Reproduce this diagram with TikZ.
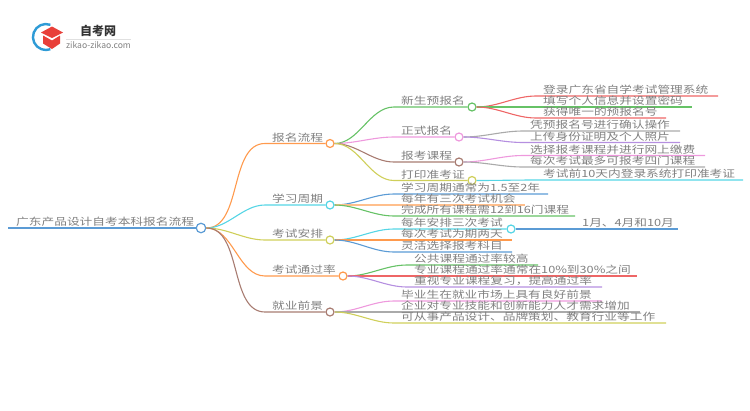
\documentclass[tikz,border=0pt]{standalone}
\usepackage{graphicx}
\usepackage{fontspec}
\setmainfont{Noto Sans CJK SC}
\newcommand{\wide}[1]{\scalebox{1.27}[1]{#1}}
\newcommand{\branch}[7]{%
  % #1 parent, #2 name, #3 colour, #4 curve end x, #5 y, #6 line end x, #7 text
  \coordinate (#2s) at (#4,#5);
  \coordinate (#2e) at (#6,#5);
  \draw[link,#3] (#1.east) to[out=0,in=180,looseness=0.9] (#2s) -- (#2e);
  \node[lbl] (#2) at (#4+7,#5) {\wide{#7}};
}
\tikzset{
  link/.style={line width=1.1pt},
  lbl/.style={anchor=base west,inner sep=0pt,text=txt,font=\fontsize{10}{11}\selectfont,yshift=2.2pt},
  hub/.style={circle,draw,line width=1.2pt,fill=white,minimum size=8pt,inner sep=0pt},
}
\definecolor{txt}{HTML}{808080}
\definecolor{cblue}{HTML}{5B9BD5}
\definecolor{corange}{HTML}{FF9A4D}
\definecolor{ccyan}{HTML}{55D5E5}
\definecolor{colive}{HTML}{CFCF5A}
\definecolor{cbrown}{HTML}{A87C72}
\definecolor{cgreen}{HTML}{66C266}
\definecolor{cpink}{HTML}{EE99DD}
\definecolor{cred}{HTML}{EE6666}
\definecolor{cgray}{HTML}{AAAAAA}
\definecolor{cpurple}{HTML}{B58FE0}
\definecolor{cpeach}{HTML}{FFBF8C}
\definecolor{logoblue}{HTML}{2E9BD6}
\definecolor{logored}{HTML}{E8403A}
\begin{document}
\begin{tikzpicture}[x=1pt,y=-1pt]
\useasboundingbox (0,0) rectangle (750,410);
% logo
\draw[logoblue,line width=2.4pt] (50.4,24.8) arc[start angle=70,end angle=290,radius=13pt];
\fill[logored] (41,32.5) -- (52,26.5) -- (63,32.5) -- (52,38) -- cycle;
\fill[logored] (43,35.5) -- (52,40.5) -- (60,35.5) -- (60,43.5) -- (52,49) -- (43,43.5) -- cycle;
\node[inner sep=0pt,text=black!80,font=\fontsize{12}{13}\selectfont\bfseries] (logot) at (98,31) {自考网};
\node[inner sep=0pt,text=black!50,font=\fontsize{8.6}{9}\selectfont] (logou) at (98.5,45) {zikao-zikao.com};
\coordinate (logol) at (66,39);
\coordinate (logor) at (131,39);
\draw[black!12,line width=0.5pt] (logol) -- (logor);
% root
\coordinate (roots) at (8,228);
\node[hub,draw=cblue,minimum size=9.5pt] (root) at (201,228) {};
\draw[link,cblue] (roots) -- (root.west);
\node[lbl] (roott) at (16,228) {\wide{广东产品设计自考本科报名流程}};
% level 1
\node[hub,draw=corange] (a) at (330,143.5) {};
\node[hub,draw=ccyan] (b) at (330,205) {};
\node[hub,draw=colive] (c) at (330,240) {};
\node[hub,draw=corange] (d) at (343,276) {};
\node[hub,draw=cbrown] (e) at (330,312) {};
\foreach \n/\col/\y/\txt in {a/corange/143.5/报名流程,b/ccyan/205/学习周期,c/colive/240/考试安排,d/corange/276/考试通过率,e/cbrown/312/就业前景}{
  \coordinate (\n s) at (265,\y);
  \draw[link,\col] (root.east) to[out=0,in=180,looseness=0.9] (\n s) -- (\n.west);
  \node[lbl] (\n t) at (272,\y) {\wide{\txt}};
}
% level 2
\node[hub,draw=cgreen] (a1) at (472,107) {};
\node[hub,draw=cpink] (a2) at (459,137) {};
\node[hub,draw=cbrown] (a3) at (459,162) {};
\node[hub,draw=colive] (a4) at (472,180.5) {};
\foreach \n/\col/\y/\txt in {a1/cgreen/107/新生预报名,a2/cpink/137/正式报名,a3/cbrown/162/报考课程,a4/colive/180.5/打印准考证}{
  \coordinate (\n s) at (394,\y);
  \draw[link,\col] (a.east) to[out=0,in=180,looseness=0.9] (\n s) -- (\n.west);
  \node[lbl] (\n t) at (401,\y) {\wide{\txt}};
}
% leaves of a1..a4
\branch{a1}{a11}{cred}{536}{96}{718}{登录广东省自学考试管理系统}
\branch{a1}{a12}{cgreen}{536}{107}{692}{填写个人信息并设置密码}
\branch{a1}{a13}{cred}{536}{118}{666}{获得唯一的预报名号}
\branch{a2}{a21}{cgray}{523}{131}{680}{凭预报名号进行确认操作}
\branch{a2}{a22}{cpurple}{523}{142.5}{680}{上传身份证明及个人照片}
\branch{a3}{a31}{cpink}{523}{155.5}{705}{选择报考课程并进行网上缴费}
\branch{a3}{a32}{cgray}{523}{167}{705}{每次考试最多可报考四门课程}
\branch{a4}{a41}{ccyan}{536}{180}{743}{考试前10天内登录系统打印准考证}
% leaves of b
\branch{b}{b1}{cblue}{394}{194}{548}{学习周期通常为1.5至2年}
\branch{b}{b2}{cpeach}{394}{205}{525}{每年有三次考试机会}
\branch{b}{b3}{cgreen}{394}{216}{575}{完成所有课程需12到16门课程}
% leaves of c
\node[hub,draw=ccyan] (c1) at (511,229) {};
\coordinate (c1s) at (394,229);
\draw[link,ccyan] (c.east) to[out=0,in=180,looseness=0.9] (c1s) -- (c1.west);
\node[lbl] (c1t) at (401,229) {\wide{每年安排三次考试}};
\branch{c1}{c11}{cblue}{575}{229}{678}{1月、4月和10月}
\branch{c}{c2}{corange}{394}{240}{512}{每次考试为期两天}
\branch{c}{c3}{cblue}{394}{252}{512}{灵活选择报考科目}
% leaves of d
\branch{d}{d1}{cgreen}{407}{265}{538}{公共课程通过率较高}
\branch{d}{d2}{cred}{407}{276}{637}{专业课程通过率通常在10\%到30\%之间}
\branch{d}{d3}{cpurple}{407}{287}{602}{重视专业课程复习，提高通过率}
% leaves of e
\branch{e}{e1}{cpink}{394}{301}{602}{毕业生在就业市场上具有良好前景}
\branch{e}{e2}{cgray}{394}{312}{640}{企业对专业技能和创新能力人才需求增加}
\branch{e}{e3}{colive}{394}{323}{666}{可从事产品设计、品牌策划、教育行业等工作}
\end{tikzpicture}
\end{document}
